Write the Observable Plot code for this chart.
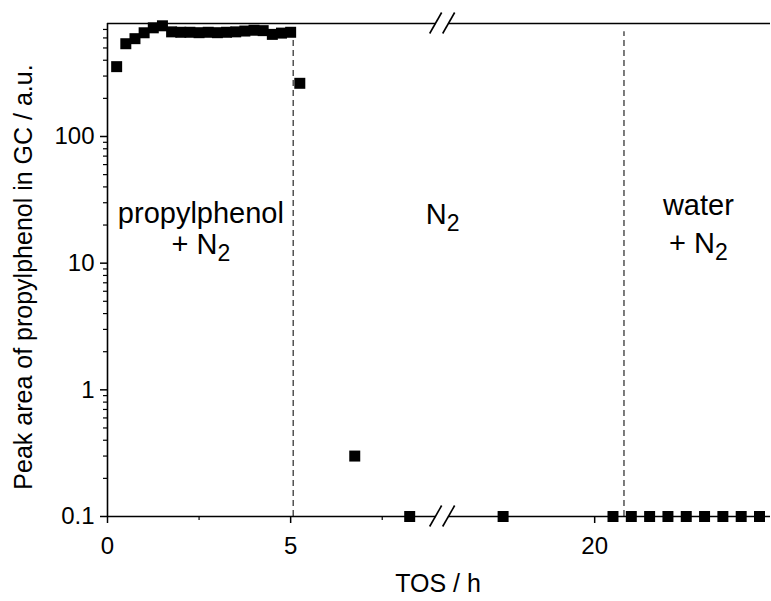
<!DOCTYPE html>
<html>
<head>
<meta charset="utf-8">
<script src="https://cdn.jsdelivr.net/npm/d3@7"></script>
<script src="https://cdn.jsdelivr.net/npm/@observablehq/plot@0.6"></script>
<style>
  body { margin: 0; background: #fff; }
  #chart { width: 771px; height: 601px; }
</style>
</head>
<body>
<div id="chart"></div>
<script>
// ---- data ----
const tosPhenol  = [0.25, 0.5, 0.75, 1.0, 1.25, 1.5, 1.75, 2.0, 2.25, 2.5, 2.75, 3.0, 3.25, 3.5, 3.75, 4.0, 4.25, 4.5, 4.75, 5.0];
const areaPhenol = [356, 540, 592, 659, 721, 748, 670, 665, 665, 660, 665, 660, 665, 670, 680, 690, 685, 640, 655, 665];
const tosN2      = [5.25, 6.75, 8.25, 17.5];
const areaN2     = [263, 0.3, 0.1, 0.1];
const tosWater   = [20.5, 21.0, 21.5, 22.0, 22.5, 23.0, 23.5, 24.0, 24.5];
const areaWater  = [0.1, 0.1, 0.1, 0.1, 0.1, 0.1, 0.1, 0.1, 0.1];
const switchTos  = [5.07, 20.8];

const xMajor = [0, 5, 20];
const xMajorLabels = ["0", "5", "20"];
const xMinor = [2.5, 7.5];
const yMajor = [0.1, 1, 10, 100];
const yMajorLabels = ["0.1", "1", "10", "100"];

const regionText = ["propylphenol", "+ N_2", "N_2", "water", "+ N_2"];
const regionTos  = [2.55, 2.55, 9.15, 22.83, 22.83];
const regionArea = [20.9, 11.9, 20.5, 23.8, 12.1];

const yMin = 0.1, yTop = 780;
const breakFrom = 9.15, breakTo = 15.85, xEnd = 24.8;

// ---- broken axis mapping ----
const gap = breakTo - breakFrom;
const brk = t => t <= breakFrom ? t : (t >= breakTo ? t - gap : breakFrom);

const points = [
  ...tosPhenol.map((t, i) => ({t, v: areaPhenol[i]})),
  ...tosN2.map((t, i) => ({t, v: areaN2[i]})),
  ...tosWater.map((t, i) => ({t, v: areaWater[i]}))
];
const labels = regionText.map((s, i) => ({s, t: regionTos[i], v: regionArea[i]}));

const yMinor = d3.scaleLog().domain([yMin, yTop]).ticks().filter(v => !yMajor.some(m => Math.abs(m - v) < 1e-9));
const yLab = new Map(yMajor.map((v, i) => [v, yMajorLabels[i]]));
const xLab = new Map(xMajor.map((t, i) => [brk(t), xMajorLabels[i]]));

const breakMarks = (index, scales) => {
  const g = d3.create("svg:g");
  const xc = scales.x(breakFrom);
  for (const yy of [scales.y(yMin), scales.y(yTop)]) {
    g.append("rect").attr("x", xc - 6.5).attr("y", yy - 2).attr("width", 13).attr("height", 4).attr("fill", "#fff");
    for (const off of [-6.5, 6.5]) {
      g.append("line")
        .attr("x1", xc + off - 6).attr("y1", yy + 10.5)
        .attr("x2", xc + off + 6).attr("y2", yy - 10.5)
        .attr("stroke", "#000").attr("stroke-width", 1.6);
    }
  }
  return g.node();
};

const chart = Plot.plot({
  width: 771, height: 601,
  marginTop: 23, marginRight: 1, marginBottom: 85, marginLeft: 107,
  style: {fontFamily: "'Liberation Sans', Arial, sans-serif", background: "#fff", color: "#000", overflow: "visible"},
  x: {domain: [0, brk(xEnd)], axis: null},
  y: {type: "log", domain: [yMin, yTop], axis: null},
  marks: [
    Plot.ruleX(switchTos, {x: brk, y1: yMin, y2: 670, stroke: "#444", strokeWidth: 1.4, strokeDasharray: "6,4"}),
    Plot.ruleY([yMin, yTop], {stroke: "#000", strokeWidth: 1.6}),
    Plot.ruleX([0], {y1: yMin, y2: yTop, stroke: "#000", strokeWidth: 1.6}),
    Plot.axisY(yMajor, {anchor: "left", tickSize: 7, tickPadding: 6, fontSize: 24, strokeWidth: 1.5, tickFormat: d => yLab.get(d), label: null}),
    Plot.axisY(yMinor, {anchor: "left", tickSize: 4, strokeWidth: 1.2, tickFormat: () => "", label: null}),
    Plot.axisX(xMajor.map(brk), {anchor: "bottom", tickSize: 7, tickPadding: 13, fontSize: 24, strokeWidth: 1.5, tickFormat: d => xLab.get(d), label: null}),
    Plot.axisX(xMinor.map(brk), {anchor: "bottom", tickSize: 4, strokeWidth: 1.2, tickFormat: () => "", label: null}),
    Plot.dot(points, {x: d => brk(d.t), y: "v", symbol: "square", fill: "#000", r: 6.2}),
    Plot.text(labels, {x: d => brk(d.t), y: "v", text: "s", lineAnchor: "bottom", fontSize: 29, fill: "#000"}),
    breakMarks
  ]
});

// subscripts
d3.select(chart).selectAll("text").each(function () {
  const txt = this.textContent;
  const m = /^(.*)_(\d)$/.exec(txt);
  if (!m) return;
  const sel = d3.select(this);
  sel.text(null);
  sel.append("tspan").text(m[1]);
  sel.append("tspan").attr("font-size", "23").attr("dy", "7").text(m[2]);
});

// axis titles
const svg = d3.select(chart);
svg.append("text")
  .attr("transform", "translate(32,277) rotate(-90)")
  .attr("text-anchor", "middle")
  .attr("font-size", 25)
  .attr("fill", "#000")
  .text("Peak area of propylphenol in GC / a.u.");
svg.append("text")
  .attr("x", 438).attr("y", 592)
  .attr("text-anchor", "middle")
  .attr("font-size", 25)
  .attr("fill", "#000")
  .text("TOS / h");

document.getElementById("chart").append(chart);
</script>
</body>
</html>
